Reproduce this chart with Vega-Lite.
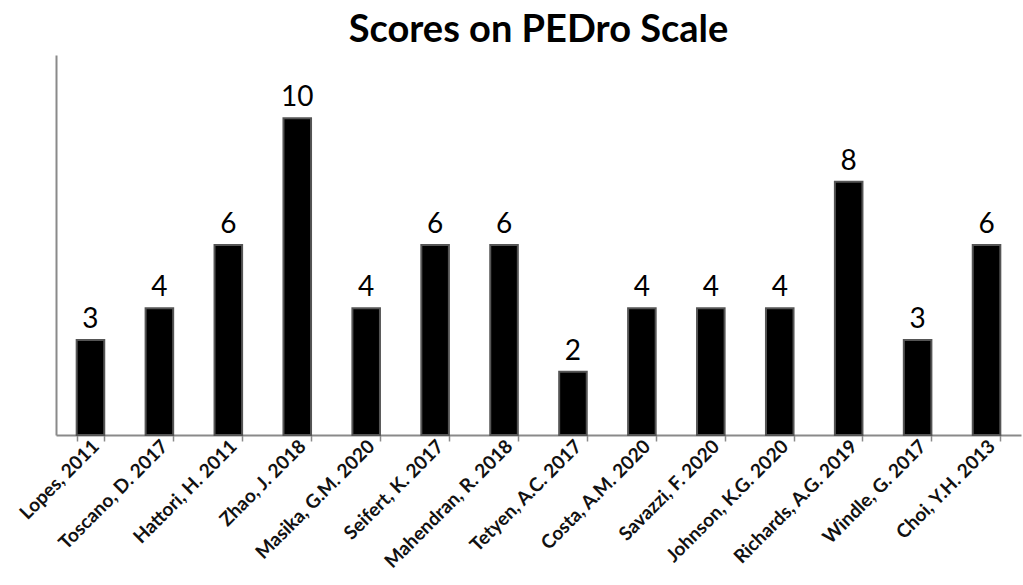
{
  "$schema": "https://vega.github.io/schema/vega-lite/v6.json",
  "width": 965,
  "height": 380,
  "autosize": {"type": "none"},
  "padding": {"left": 56, "top": 55, "right": 2, "bottom": 150},
  "background": "white",
  "title": {
    "text": "Scores on PEDro Scale",
    "font": "Lato",
    "fontSize": 38,
    "fontWeight": "bold",
    "color": "black",
    "anchor": "middle",
    "offset": 5,
    "dx": 0
  },
  "data": {
    "values": [
      {"study": "Lopes, 2011", "score": 3},
      {"study": "Toscano, D. 2017", "score": 4},
      {"study": "Hattori, H. 2011", "score": 6},
      {"study": "Zhao, J. 2018", "score": 10},
      {"study": "Masika, G.M. 2020", "score": 4},
      {"study": "Seifert, K. 2017", "score": 6},
      {"study": "Mahendran, R. 2018", "score": 6},
      {"study": "Tetyen, A.C. 2017", "score": 2},
      {"study": "Costa, A.M. 2020", "score": 4},
      {"study": "Savazzi, F. 2020", "score": 4},
      {"study": "Johnson, K.G. 2020", "score": 4},
      {"study": "Richards, A.G. 2019", "score": 8},
      {"study": "Windle, G. 2017", "score": 3},
      {"study": "Choi, Y.H. 2013", "score": 6}
    ]
  },
  "encoding": {
    "x": {
      "field": "study",
      "type": "nominal",
      "sort": null,
      "scale": {"paddingInner": 0.6, "paddingOuter": 0.3},
      "axis": {
        "title": null,
        "labelAngle": -45,
        "labelAlign": "right",
        "labelBaseline": "middle",
        "labelFont": "Lato",
        "labelFontSize": 19,
        "labelFontWeight": "bold",
        "labelColor": "#111111",
        "labelPadding": 2,
        "labelOffset": 5,
        "labelLimit": 300,
        "tickBand": "extent",
        "domainColor": "#8a8a8a",
        "domainWidth": 2,
        "tickColor": "#8a8a8a",
        "tickWidth": 1.5,
        "tickSize": 6,
        "grid": false
      }
    },
    "y": {
      "field": "score",
      "type": "quantitative",
      "scale": {"domain": [0, 12], "nice": false},
      "axis": {
        "title": null,
        "labels": false,
        "ticks": false,
        "grid": false,
        "domainColor": "#8a8a8a",
        "domainWidth": 2
      }
    }
  },
  "layer": [
    {
      "mark": {"type": "bar", "color": "black", "stroke": "#555555", "strokeWidth": 2}
    },
    {
      "mark": {"type": "text", "baseline": "bottom", "dy": -6, "font": "Lato", "fontSize": 28, "color": "black"},
      "encoding": {"text": {"field": "score", "type": "quantitative"}}
    }
  ],
  "config": {"view": {"stroke": null}}
}
